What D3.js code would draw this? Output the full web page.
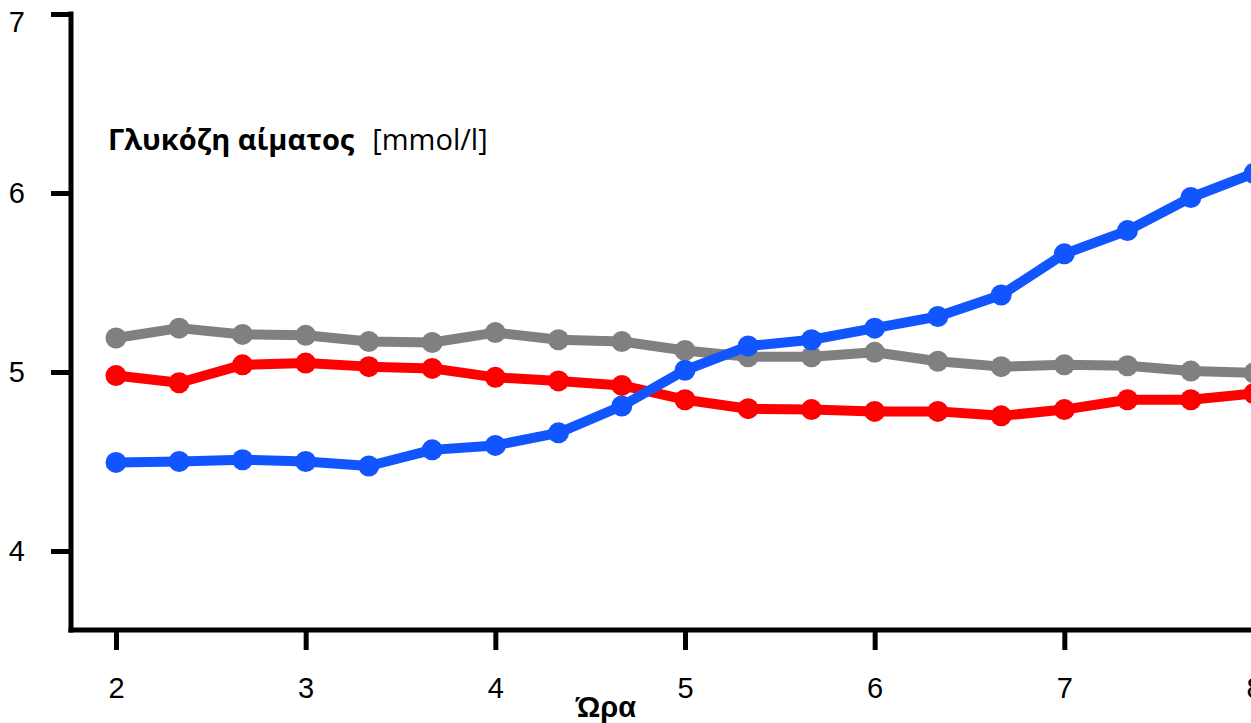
<!DOCTYPE html>
<html>
<head>
<meta charset="utf-8">
<script src="https://cdn.jsdelivr.net/npm/d3@7"></script>
<style>
  html, body { margin: 0; padding: 0; background: #fff; }
  svg { display: block; }
</style>
</head>
<body>
<svg id="chart" width="1251" height="723"></svg>
<script>
// Blood glucose readings every 20 minutes between hour 2 and hour 8
const hours = [2, 2.333, 2.667, 3, 3.333, 3.667, 4, 4.333, 4.667, 5, 5.333, 5.667, 6, 6.333, 6.667, 7, 7.333, 7.667, 8];
const grayValues = [5.19, 5.245, 5.21, 5.205, 5.17, 5.165, 5.22, 5.18, 5.17, 5.12, 5.085, 5.085, 5.11, 5.06, 5.03, 5.04, 5.035, 5.005, 4.995];
const redValues  = [4.98, 4.94, 5.04, 5.05, 5.03, 5.02, 4.97, 4.95, 4.925, 4.845, 4.795, 4.79, 4.78, 4.78, 4.755, 4.79, 4.845, 4.845, 4.88];
const blueValues = [4.495, 4.50, 4.51, 4.50, 4.475, 4.565, 4.59, 4.66, 4.81, 5.01, 5.145, 5.18, 5.245, 5.31, 5.43, 5.66, 5.79, 5.975, 6.11];
const seriesColors = ["#808080", "#ff0000", "#1155ff"];
const xTicks = [2, 3, 4, 5, 6, 7, 8];
const yTicks = [4, 5, 6, 7];
const titleBold = "Γλυκόζη αίματος";
const titleUnit = "[mmol/l]";
const xTitle = "Ώρα";

const svg = d3.select("#chart");

// pixel layout of the plotting area
const x = d3.scaleLinear().domain([2, 8]).range([116, 1254]);
const y = d3.scaleLinear().domain([4, 7]).range([551, 14]);
const axisX = 71, axisY = 630;
const font = "'Liberation Sans', Arial, sans-serif";

// y axis
const yAxis = svg.append("g")
  .attr("transform", `translate(${axisX},0)`)
  .call(d3.axisLeft(y).tickValues(yTicks).tickFormat(d3.format("d")).tickSize(20).tickPadding(26));
yAxis.select(".domain").remove();
yAxis.selectAll(".tick line").attr("stroke", "#000").attr("stroke-width", 5);
yAxis.selectAll(".tick text")
  .attr("font-family", font).attr("font-size", 29).attr("fill", "#000")
  // keep the topmost label inside the drawing
  .attr("y", d => Math.max(0, 22 - y(d)));
svg.append("line")
  .attr("x1", axisX).attr("x2", axisX)
  .attr("y1", y(7) - 2.5).attr("y2", axisY + 2.5)
  .attr("stroke", "#000").attr("stroke-width", 5);

// x axis
const xAxis = svg.append("g")
  .attr("transform", `translate(0,${axisY})`)
  .call(d3.axisBottom(x).tickValues(xTicks).tickFormat(d3.format("d")).tickSize(20).tickPadding(27));
xAxis.select(".domain").remove();
xAxis.selectAll(".tick line").attr("stroke", "#000").attr("stroke-width", 5);
xAxis.selectAll(".tick text").attr("font-family", font).attr("font-size", 29).attr("fill", "#000");
svg.append("line")
  .attr("x1", axisX - 2.5).attr("x2", 1251)
  .attr("y1", axisY).attr("y2", axisY)
  .attr("stroke", "#000").attr("stroke-width", 5);

// series: lines with round markers
const allSeries = [grayValues, redValues, blueValues];
const line = d3.line().x((d, i) => x(hours[i])).y(d => y(d));
allSeries.forEach((vals, k) => {
  const g = svg.append("g");
  g.append("path")
    .datum(vals)
    .attr("d", line)
    .attr("fill", "none")
    .attr("stroke", seriesColors[k])
    .attr("stroke-width", 10)
    .attr("stroke-linejoin", "round");
  g.selectAll("circle")
    .data(vals)
    .join("circle")
    .attr("cx", (d, i) => x(hours[i]))
    .attr("cy", d => y(d))
    .attr("r", 10.5)
    .attr("fill", seriesColors[k]);
});

// value axis title
const t = svg.append("text")
  .attr("x", 108).attr("y", 150)
  .attr("font-family", "'Open Sans', 'Noto Sans', sans-serif")
  .attr("font-size", 29)
  .attr("fill", "#000");
t.append("tspan").attr("font-weight", "bold").text(titleBold);
t.append("tspan").attr("dx", 18).text(titleUnit);

// time axis title
svg.append("text")
  .attr("x", 606).attr("y", 717)
  .attr("text-anchor", "middle")
  .attr("font-family", font)
  .attr("font-weight", "bold")
  .attr("font-size", 29)
  .attr("fill", "#000")
  .text(xTitle);
</script>
</body>
</html>
